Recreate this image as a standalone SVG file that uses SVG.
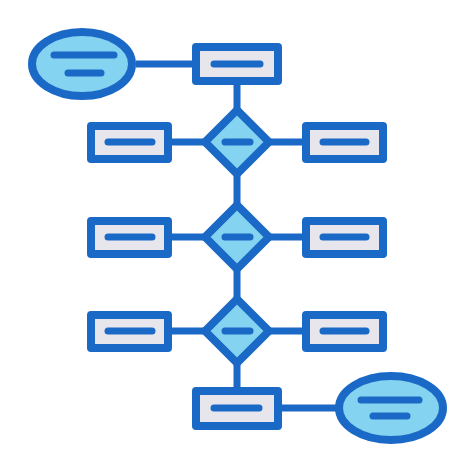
<svg xmlns="http://www.w3.org/2000/svg" width="474" height="474" viewBox="0 0 474 474">
<style>
.ln{stroke:#1b69c6;stroke-width:7;fill:none;stroke-linecap:butt}
.bar{stroke:#1b69c6;stroke-width:7;fill:none;stroke-linecap:round}
.ent{fill:#e6e6ec;stroke:#1b69c6;stroke-width:8;stroke-linejoin:round}
.rel{fill:#84d3f1;stroke:#1b69c6;stroke-width:8;stroke-linejoin:round}
</style>
<rect width="474" height="474" fill="#fff"/>
<g id="connectors">
<line class="ln" x1="136" y1="64" x2="196" y2="64"/>
<line class="ln" x1="237" y1="81" x2="237" y2="406"/>
<line class="ln" x1="168" y1="142" x2="306" y2="142"/>
<line class="ln" x1="168" y1="237" x2="306" y2="237"/>
<line class="ln" x1="168" y1="331" x2="306" y2="331"/>
<line class="ln" x1="278" y1="408" x2="338" y2="408"/>
</g>
<g id="attr-top">
<ellipse class="rel" cx="82" cy="64" rx="50" ry="32"/>
<line class="bar" x1="54" y1="55" x2="114" y2="55"/>
<line class="bar" x1="68" y1="73" x2="101" y2="73"/>
</g>
<g id="entity-top">
<rect class="ent" x="196" y="47" width="82" height="34"/>
<line class="bar" x1="214" y1="64" x2="260" y2="64"/>
</g>
<g id="rel-1">
<polygon class="rel" points="237,110 269,142 237,174 205,142"/>
<line class="bar" x1="225" y1="142" x2="250" y2="142"/>
</g>
<g id="rel-2">
<polygon class="rel" points="237,205 269,237 237,269 205,237"/>
<line class="bar" x1="225" y1="237" x2="250" y2="237"/>
</g>
<g id="rel-3">
<polygon class="rel" points="237,299 269,331 237,363 205,331"/>
<line class="bar" x1="225" y1="331" x2="250" y2="331"/>
</g>
<g id="entity-1l">
<rect class="ent" x="91" y="126" width="77" height="33"/>
<line class="bar" x1="108" y1="142" x2="152" y2="142"/>
</g>
<g id="entity-1r">
<rect class="ent" x="306" y="126" width="77" height="33"/>
<line class="bar" x1="323" y1="142" x2="366" y2="142"/>
</g>
<g id="entity-2l">
<rect class="ent" x="91" y="221" width="77" height="33"/>
<line class="bar" x1="108" y1="237" x2="152" y2="237"/>
</g>
<g id="entity-2r">
<rect class="ent" x="306" y="221" width="77" height="33"/>
<line class="bar" x1="323" y1="237" x2="366" y2="237"/>
</g>
<g id="entity-3l">
<rect class="ent" x="91" y="315" width="77" height="33"/>
<line class="bar" x1="108" y1="331" x2="152" y2="331"/>
</g>
<g id="entity-3r">
<rect class="ent" x="306" y="315" width="77" height="33"/>
<line class="bar" x1="323" y1="331" x2="366" y2="331"/>
</g>
<g id="entity-bottom">
<rect class="ent" x="196" y="391" width="82" height="35"/>
<line class="bar" x1="214" y1="408" x2="259" y2="408"/>
</g>
<g id="attr-bottom">
<ellipse class="rel" cx="391" cy="408" rx="52" ry="32"/>
<line class="bar" x1="361" y1="400" x2="419" y2="400"/>
<line class="bar" x1="373" y1="416" x2="407" y2="416"/>
</g>
</svg>
